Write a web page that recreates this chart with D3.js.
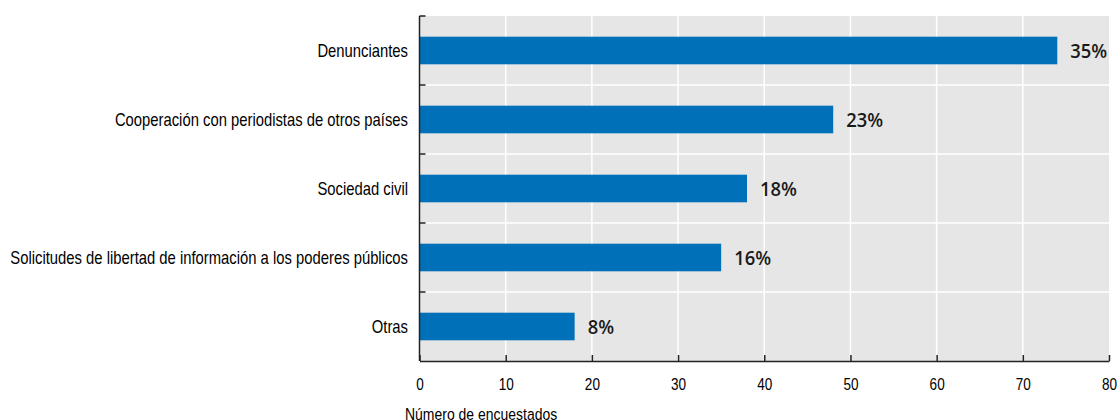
<!DOCTYPE html>
<html><head><meta charset="utf-8">
<script src="https://cdn.jsdelivr.net/npm/d3@7"></script>
<style>body{margin:0;background:#fff}svg{display:block}</style>
</head><body>
<svg id="c" width="1118" height="420"></svg>
<script>
const categories = ["Denunciantes","Cooperación con periodistas de otros países","Sociedad civil","Solicitudes de libertad de información a los poderes públicos","Otras"];
const values = [74, 48, 38, 35, 18];
const pctLabels = ["35%","23%","18%","16%","8%"];
const xTicks = [0,10,20,30,40,50,60,70,80];
const xTitle = "Número de encuestados";

const svg = d3.select("#c");
const FONT = "'Liberation Sans', Arial, sans-serif";
const L = 419.5, R = 1109, T = 16, B = 361;
const x = d3.scaleLinear().domain([0,80]).range([L,R]);
const y = d3.scaleBand().domain(categories).range([T,B]).paddingInner(0.6).paddingOuter(0.3);
const yb = d3.scaleBand().domain(categories).range([T,B]);

svg.append("rect").attr("x",L).attr("y",T).attr("width",R-L).attr("height",B-T).attr("fill","#e6e6e6");
svg.append("g").selectAll("line").data(xTicks.slice(1,-1)).join("line")
  .attr("x1",d=>x(d)).attr("x2",d=>x(d)).attr("y1",T).attr("y2",B)
  .attr("stroke","#fff").attr("stroke-width",1.5);
svg.append("g").selectAll("line").data(categories.slice(1)).join("line")
  .attr("x1",L).attr("x2",R).attr("y1",d=>yb(d)).attr("y2",d=>yb(d))
  .attr("stroke","#fff").attr("stroke-width",1.5);

svg.append("g").selectAll("rect").data(categories).join("rect")
  .attr("x",L).attr("y",d=>y(d)).attr("width",(d,i)=>x(values[i])-L).attr("height",y.bandwidth())
  .attr("fill","#0070b8");
svg.append("g").selectAll("text").data(categories).join("text")
  .attr("transform",(d,i)=>`translate(${x(values[i])+13},${y(d)+y.bandwidth()/2}) scale(0.92,1)`)
  .attr("dy","0.36em")
  .attr("font-family","'Open Sans', sans-serif").attr("font-weight",600).attr("font-size",20)
  .attr("fill","#1a1a1a").text((d,i)=>pctLabels[i]);

// y axis
const gy = svg.append("g");
gy.append("line").attr("x1",L).attr("x2",L).attr("y1",T).attr("y2",B).attr("stroke","#222").attr("stroke-width",1.5);
gy.selectAll("line.t").data(categories).join("line").attr("class","t")
  .attr("x1",L).attr("x2",L+6).attr("y1",d=>yb(d)).attr("y2",d=>yb(d)).attr("stroke","#222").attr("stroke-width",1.5);
const labs = gy.selectAll("text").data(categories).join("text")
  .attr("dy","0.36em").attr("text-anchor","end")
  .attr("font-family",FONT).attr("font-size",17.5)
  .attr("fill","#000").text(d=>d);
// condense to match the narrow face of the original
let longest = 0;
labs.each(function(){ longest = Math.max(longest, this.getComputedTextLength()); });
const f = 398 / longest;
labs.attr("transform",d=>`translate(408,${y(d)+y.bandwidth()/2}) scale(${f},1)`);

// x axis
const gx = svg.append("g").attr("transform",`translate(0,${B})`)
  .call(d3.axisBottom(x).tickValues(xTicks).tickSize(-6).tickPadding(18).tickSizeOuter(0));
gx.select(".domain").attr("stroke","#222").attr("stroke-width",1.5);
gx.selectAll(".tick line").attr("stroke","#222").attr("stroke-width",1.5);
gx.selectAll(".tick text").attr("font-family",FONT)
  .attr("font-size",16).attr("fill","#000").attr("transform",`scale(${f},1)`);
svg.append("text").attr("transform",`translate(405,420) scale(${f},1)`).attr("font-family",FONT)
  .attr("font-size",16.5).attr("fill","#000").text(xTitle);
</script>
</body></html>
